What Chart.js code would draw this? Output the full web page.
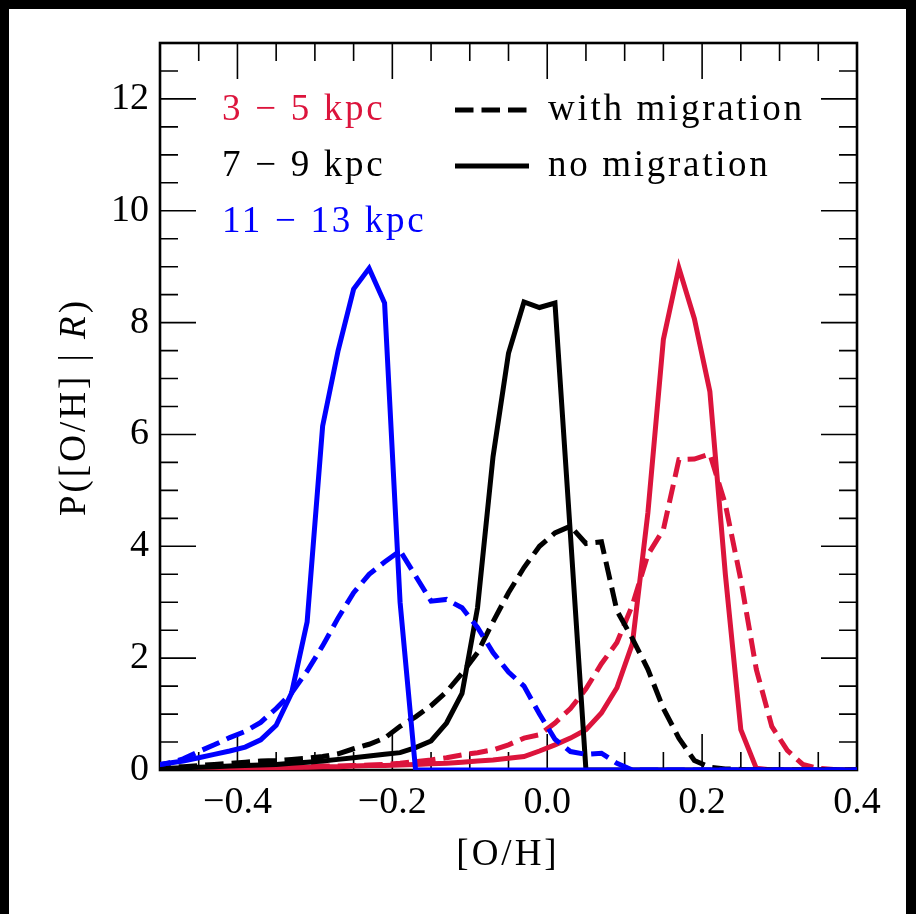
<!DOCTYPE html>
<html>
<head>
<meta charset="utf-8">
<script src="https://cdn.jsdelivr.net/npm/chart.js@4.4.1/dist/chart.umd.min.js"></script>
<style>
  html, body { margin: 0; padding: 0; background: #000; }
  #wrap { position: absolute; left: 9px; top: 9px; width: 897px; height: 905px; background: #fff; }
</style>
</head>
<body>
<div id="wrap"><canvas id="grafico" width="897" height="905"></canvas></div>
<script>
Chart.defaults.font.family = 'Liberation Serif';
Chart.defaults.color = 'black';

// bin centres of [O/H]
const binCenters = [-0.51, -0.49, -0.47, -0.45, -0.43, -0.41, -0.39, -0.37, -0.35, -0.33,
  -0.31, -0.29, -0.27, -0.25, -0.23, -0.21, -0.19, -0.17, -0.15, -0.13,
  -0.11, -0.09, -0.07, -0.05, -0.03, -0.01, 0.01, 0.03, 0.05, 0.07,
  0.09, 0.11, 0.13, 0.15, 0.17, 0.19, 0.21, 0.23, 0.25, 0.27,
  0.29, 0.31, 0.33, 0.35, 0.37, 0.39, 0.41];

// 3 - 5 kpc
const innerNoMig = [0.00, 0.01, 0.01, 0.02, 0.02, 0.03, 0.03, 0.04, 0.04, 0.05,
  0.05, 0.06, 0.06, 0.07, 0.08, 0.08, 0.09, 0.10, 0.11, 0.12,
  0.14, 0.16, 0.18, 0.21, 0.24, 0.34, 0.45, 0.57, 0.72, 1.02,
  1.47, 2.26, 4.60, 7.70, 8.98, 8.07, 6.77, 3.50, 0.72, 0.03,
  0, 0, 0, 0, 0, 0, 0];
const innerMig = [0.01, 0.01, 0.02, 0.02, 0.03, 0.03, 0.04, 0.04, 0.05, 0.05,
  0.06, 0.07, 0.07, 0.08, 0.09, 0.10, 0.12, 0.15, 0.18, 0.22,
  0.27, 0.31, 0.36, 0.45, 0.57, 0.63, 0.84, 1.10, 1.45, 1.90,
  2.28, 2.95, 3.85, 4.30, 5.55, 5.56, 5.65, 4.75, 3.40, 1.80,
  0.78, 0.35, 0.10, 0.03, 0.01, 0, 0];

// 7 - 9 kpc
const solarNoMig = [0.02, 0.03, 0.04, 0.05, 0.06, 0.07, 0.08, 0.09, 0.10, 0.12,
  0.14, 0.16, 0.19, 0.22, 0.25, 0.28, 0.31, 0.40, 0.52, 0.84,
  1.37, 2.90, 5.60, 7.45, 8.37, 8.27, 8.35, 4.20, 0, 0,
  0, 0, 0, 0, 0, 0, 0, 0, 0, 0,
  0, 0, 0, 0, 0, 0, 0];
const solarMig = [0.04, 0.05, 0.06, 0.08, 0.10, 0.12, 0.14, 0.16, 0.17, 0.19,
  0.21, 0.24, 0.29, 0.38, 0.46, 0.57, 0.78, 0.95, 1.15, 1.40,
  1.73, 2.10, 2.65, 3.17, 3.62, 4.00, 4.24, 4.36, 4.05, 4.08,
  2.85, 2.35, 1.80, 1.10, 0.57, 0.17, 0.05, 0.02, 0.01, 0,
  0, 0, 0, 0, 0, 0, 0];

// 11 - 13 kpc
const outerNoMig = [0.08, 0.12, 0.16, 0.22, 0.28, 0.34, 0.41, 0.54, 0.80, 1.38,
  2.65, 6.15, 7.50, 8.60, 8.97, 8.35, 3.00, 0, 0, 0,
  0, 0, 0, 0, 0, 0, 0, 0, 0, 0,
  0, 0, 0, 0, 0, 0, 0, 0, 0, 0,
  0, 0, 0, 0, 0, 0, 0];
const outerMig = [0.08, 0.12, 0.20, 0.33, 0.45, 0.58, 0.69, 0.85, 1.10, 1.38,
  1.77, 2.22, 2.72, 3.17, 3.50, 3.72, 3.92, 3.47, 3.02, 3.05,
  2.90, 2.55, 2.10, 1.75, 1.50, 1.00, 0.55, 0.33, 0.28, 0.30,
  0.12, 0, 0, 0, 0, 0, 0, 0, 0, 0,
  0, 0, 0, 0, 0, 0, 0];

const xTickValues = [-0.4, -0.2, 0.0, 0.2, 0.4];
const yTickValues = [0, 2, 4, 6, 8, 10, 12];
const regionLabels = ['3 \u2212 5 kpc', '7 \u2212 9 kpc', '11 \u2212 13 kpc'];
const regionColors = ['#DC143C', '#000000', '#0000FF'];
const styleLabels = ['with migration', 'no migration'];

const dash = [18.5, 8];
const pts = (vals) => binCenters.map((x, i) => ({x: x, y: vals[i]}));

function serie(vals, color, dashed) {
    return {
        data: pts(vals),
        borderColor: color,
        borderWidth: 5,
        borderDash: dashed ? dash : [],
        borderCapStyle: 'butt',
        borderJoinStyle: 'miter',
        pointRadius: 0,
        tension: 0,
        fill: false
    };
}

const minus = (v) => (v < -1e-9 ? '\u2212' : '') + Math.abs(v).toFixed(1);

// frame with inward ticks on all sides, legend and axis titles
const framePlugin = {
    id: 'frame',
    beforeDatasetsDraw(chart) {
        const ctx = chart.ctx;
        const {left, right, top, bottom} = chart.chartArea;
        const xs = chart.scales.x, ys = chart.scales.y;
        ctx.save();
        ctx.strokeStyle = 'black';
        ctx.lineWidth = 1.6;
        for (let k = 0; k <= 18; k++) {
            const v = -0.5 + k * 0.05;
            const px = xs.getPixelForValue(v);
            const major = Math.abs(Math.round(v / 0.2) * 0.2 - v) < 1e-6;
            const len = major ? 36 : 18;
            ctx.beginPath();
            ctx.moveTo(px, bottom); ctx.lineTo(px, bottom - len);
            ctx.moveTo(px, top); ctx.lineTo(px, top + len);
            ctx.stroke();
        }
        for (let k = 0; k <= 26; k++) {
            const v = k * 0.5;
            const py = ys.getPixelForValue(v);
            const len = (k % 4 === 0) ? 36 : 18;
            ctx.beginPath();
            ctx.moveTo(left, py); ctx.lineTo(left + len, py);
            ctx.moveTo(right, py); ctx.lineTo(right - len, py);
            ctx.stroke();
        }
        ctx.lineWidth = 2.6;
        ctx.strokeRect(left, top, right - left, bottom - top);
        ctx.restore();
    },
    afterDraw(chart) {
        const ctx = chart.ctx;
        ctx.save();
        ctx.textBaseline = 'middle';
        ctx.font = '37px "Liberation Serif"';
        ctx.letterSpacing = '2.7px';
        // region labels
        regionLabels.forEach((t, i) => {
            ctx.fillStyle = regionColors[i];
            ctx.fillText(t, 213, 101 + i * 56);
        });
        // line style key
        ctx.strokeStyle = 'black';
        ctx.lineWidth = 5;
        ctx.lineCap = 'butt';
        ctx.setLineDash(dash);
        ctx.beginPath(); ctx.moveTo(446, 101); ctx.lineTo(520, 101); ctx.stroke();
        ctx.setLineDash([]);
        ctx.beginPath(); ctx.moveTo(446, 157); ctx.lineTo(520, 157); ctx.stroke();
        ctx.fillStyle = 'black';
        ctx.fillText(styleLabels[0], 539, 101);
        ctx.fillText(styleLabels[1], 539, 157);

        // axis titles
        ctx.letterSpacing = '3px';
        ctx.textAlign = 'center';
        ctx.fillText('[O/H]', 499, 846);

        ctx.translate(66, 398);
        ctx.rotate(-Math.PI / 2);
        const a = 'P([O/H] | ', b = 'R', c = ')';
        const fN = '37px "Liberation Serif"', fI = 'italic 37px "Liberation Serif"';
        ctx.font = fN; const wa = ctx.measureText(a).width, wc = ctx.measureText(c).width;
        ctx.font = fI; const wb = ctx.measureText(b).width;
        let x0 = -(wa + wb + wc) / 2;
        ctx.textAlign = 'left';
        ctx.font = fN; ctx.fillText(a, x0, 0);
        ctx.font = fI; ctx.fillText(b, x0 + wa, 0);
        ctx.font = fN; ctx.fillText(c, x0 + wa + wb, 0);
        ctx.restore();
    }
};

const ctx = document.getElementById('grafico');
const chart = new Chart(ctx, {
    type: 'line',
    data: {
        datasets: [
            serie(outerNoMig, regionColors[2], false),
            serie(outerMig, regionColors[2], true),
            serie(solarNoMig, regionColors[1], false),
            serie(solarMig, regionColors[1], true),
            serie(innerNoMig, regionColors[0], false),
            serie(innerMig, regionColors[0], true)
        ]
    },
    options: {
        responsive: false,
        animation: false,
        devicePixelRatio: 1,
        layout: { padding: { top: 34, right: 49, left: 0, bottom: 0 } },
        plugins: { legend: { display: false }, tooltip: { enabled: false } },
        scales: {
            x: {
                type: 'linear',
                min: -0.5,
                max: 0.4,
                grid: { display: false, drawTicks: false },
                border: { display: false },
                afterBuildTicks: (s) => { s.ticks = xTickValues.map(v => ({value: v})); },
                afterFit: (s) => { s.height = 144; },
                ticks: {
                    font: { size: 38 },
                    padding: 10,
                    maxRotation: 0,
                    autoSkip: false,
                    callback: (v) => minus(v)
                }
            },
            y: {
                min: 0,
                max: 13,
                grid: { display: false, drawTicks: false },
                border: { display: false },
                afterBuildTicks: (s) => { s.ticks = yTickValues.map(v => ({value: v})); },
                afterFit: (s) => { s.width = 151; },
                ticks: {
                    font: { size: 38 },
                    padding: 11,
                    autoSkip: false,
                    callback: (v) => String(v)
                }
            }
        }
    },
    plugins: [framePlugin]
});
</script>
</body>
</html>
